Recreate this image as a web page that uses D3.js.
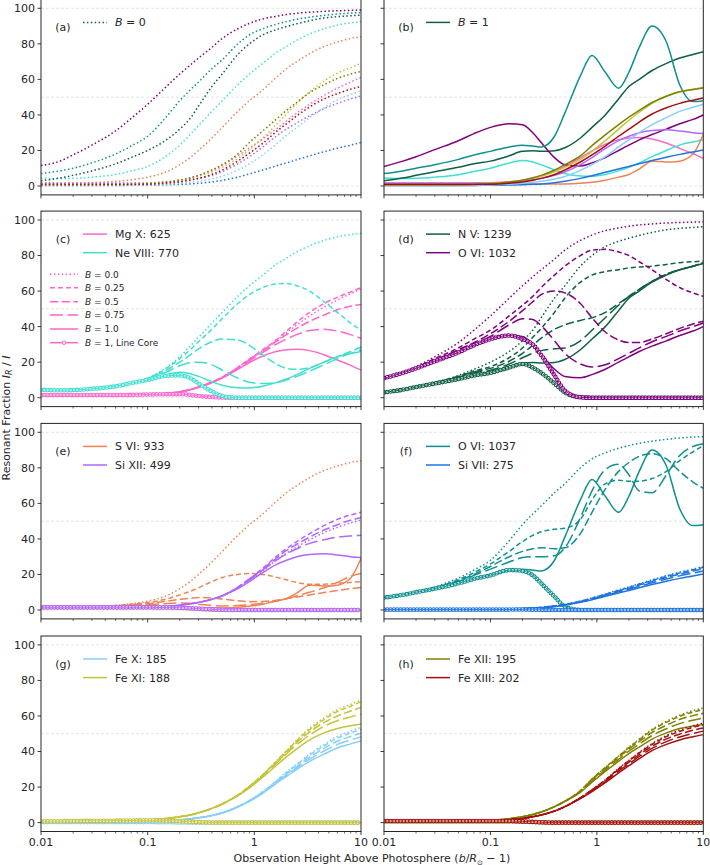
<!DOCTYPE html>
<html><head><meta charset="utf-8">
<script src="https://cdn.jsdelivr.net/npm/d3@7"></script>
<style>body{margin:0;background:#fff}svg{display:block}text{font-family:"DejaVu Sans",sans-serif;fill:#262626}</style>
</head><body><svg id="c" width="710" height="865"></svg>
<script>
// ---------------- data ----------------
const heights = [0.01,0.015,0.02,0.03,0.05,0.07,0.1,0.15,0.2,0.25,0.3,0.4,0.5,0.7,0.9,1.2,1.6,2,2.5,3.3,4.5,6,8,10];
const bLabels = ["0.0","0.25","0.5","0.75","1.0"];
const xTickVals = [0.01,0.1,1,10];
const xTickLabels = ["0.01","0.1","1","10"];
const yTickVals = [0,20,40,60,80,100];
const gridVals = [0,50,100];
// rows: B=0, 0.25, 0.5, 0.75, 1, line core
const MgX625 = [
 [1.5,1.5,1.5,1.5,1.5,1.6,1.8, 2.4,3.3,4.6,6,8.8,11.5, 17,21.5,26.5,32,36.5,41,46,51,55,58.5,61.2],
 [1.5,1.5,1.5,1.5,1.5,1.6,1.8, 2.4,3.3,4.6,6,8.8,11.5, 17,21.8,27,32.5,37.5,42.5,48,53,56.5,59.5,62],
 [1.5,1.5,1.5,1.5,1.5,1.6,1.8, 2.4,3.3,4.6,6,8.8,11.5, 17,21.5,26.5,31.5,35.5,39,43,46.5,49.5,51.5,52.5],
 [1.5,1.5,1.5,1.5,1.5,1.6,1.8, 2.4,3.3,4.5,5.9,8.6,11.3, 16.6,20.8,25.5,30,33,35.5,37.8,38.5,37.5,35.5,33.5],
 [1.5,1.5,1.5,1.5,1.5,1.6,1.8, 2.4,3.2,4.4,5.8,8.4,11, 16,19.8,23.5,26,27,27.3,26.5,24.2,21.2,18.2,15.5],
 [1.5,1.5,1.5,1.5,1.5,1.6,1.8, 2,2,1.6,1,0.4,0.1, 0,0,0,0,0,0,0,0,0,0,0]];
const NeVIII770 = [
 [4.5,4.2,4.3,5,6.5,8.5,11, 17,23,29,34,42,48, 57,63,69,75,78.5,82,85.5,88.5,90.5,91.8,92.5],
 [4.5,4.2,4.3,5,6.5,8.5,11, 16.5,22,27,31.5,38.5,44.5, 53,58,62,64,64.3,63,60,54,48,42,38],
 [4.5,4.2,4.3,5,6.5,8.4,10.8, 15.5,20,24,27.5,31.5,33, 32.5,29.5,24,19,16.5,16,17,20,23,26,28.5],
 [4.5,4.2,4.3,5,6.5,8.3,10.5, 14.5,18,19.7,20,18.5,15.5, 11,8.7,8,8.5,10,12,15,18.5,22,25,27],
 [4.5,4.2,4.3,5,6.4,8.2,10, 13,14.3,13.5,12,9,7, 5.6,5.5,6.5,8.5,10.5,13,16.5,20,23,24.8,26],
 [4.5,4.2,4.3,5,6.4,8.2,10, 12.3,12.6,11,8,3.5,1, 0,0,0,0,0,0,0,0,0,0,0]];
const NV1239 = [
 [3,4.5,6,8.5,12.5,16,20, 26,32,38,45,56,63, 74,80,85,88,89.7,91.3,93,94.5,95.3,95.8,96.2],
 [3,4.5,6,8.5,12,15,17.5, 22.5,28,34,39,48,56, 65,69,71,72,73,73.5,74,75,76,76.5,77],
 [3,4.5,6,8.5,12,14.5,16.5, 20.5,25,29.5,33.5,38.5,41, 43.5,45,48,53,57,61,65.5,69.5,72,74,76],
 [3,4.5,6,8.5,11.5,14,15.5, 19,22.5,25,26.5,27.5,28, 32,38,45,52,57,61,65.5,69.5,72,74,76],
 [3,4.5,6,8,10.5,12.5,14, 17,19.5,19.8,19.5,19.8,21.5, 27,33,40,49,56,60,65,69,72,74,75.5],
 [3,4.5,6,8,10.5,12.5,14, 17,19,17,14,8,3, 0.3,0,0,0,0,0,0,0,0,0,0]];
const OVI1032 = [
 [11.5,14,17.5,23,31,38,46, 56,63,68,72,78,83, 88.5,91.5,94,95.5,96.5,97.2,97.8,98.3,98.6,98.8,99],
 [11.5,14,17,22,28,33,38, 46,52,57,62,69,74, 80,83,83.5,82,80,76.5,72,66.5,62,59,57],
 [11.5,14,16.5,21,27,31,36, 43,49,54,58,60,59, 53,45,37,32.5,31,31,33,36,39,41.5,43],
 [11.5,14,16.5,20.5,26,30,34.5, 41,44.5,44,40.5,32,25, 19,17.3,18.5,22,25,28,31.5,34.5,37.5,40,42],
 [11,14,16.5,20.5,25.5,29.5,33, 35,34.5,30,24.5,16,12, 11.3,13,16,20,23,26,29,32,35,37.5,40],
 [11,14,16.5,20.5,25.5,29.5,33, 35,33,30,24,12.5,4, 0.2,0,0,0,0,0,0,0,0,0,0]];
const SVI933 = [
 [1.5,1.5,1.6,1.9,2.6,3.5,5, 8,12,16,20,27,33, 42,48,54,61,66,70,74.5,78.5,81,83,84],
 [1.5,1.5,1.6,1.9,2.5,3.2,4.2, 6.2,8.5,10.5,12.5,16,18.3, 20,20.5,20,18.5,17,15.5,14.5,14.5,15,15.5,16],
 [1.5,1.5,1.6,1.8,2.2,2.8,3.5, 5,6,6.6,7,6.8,6.2, 5.2,4.7,4.8,5.5,6.3,7.3,8.5,9.8,11,12,12.7],
 [1.5,1.5,1.6,1.7,2,2.4,3, 3.6,4,3.8,3.3,2.6,2.3, 2.5,3,3.8,5,6.3,8,10,12.5,15.5,19,20.5],
 [1.5,1.5,1.5,1.5,1.5,1.5,1.5, 1.5,1.3,1.2,1.2,1.2,1.2, 1.5,2.1,3.3,5,6.5,9.5,14,13.5,14,18,29],
 [1.5,1.5,1.5,1.5,1.5,1.5,1.6, 1.5,1.2,0.9,0.6,0.2,0, 0,0,0,0,0,0,0,0,0,0,0]];
const SiXII499 = [
 [1.5,1.5,1.5,1.5,1.5,1.5,1.6, 2,2.7,3.5,4.3,6,8, 12.5,16.5,22,28,32,35.5,39.5,43.5,46.5,49,50.6],
 [1.5,1.5,1.5,1.5,1.5,1.5,1.6, 2,2.7,3.5,4.3,6,8, 12.8,17.5,23.5,30,34.5,38.5,43,47.5,51,53.5,55],
 [1.5,1.5,1.5,1.5,1.5,1.5,1.6, 2,2.7,3.5,4.3,6,8, 12.8,17.5,23,29,33.5,37,41,45,48,50.5,52],
 [1.5,1.5,1.5,1.5,1.5,1.5,1.6, 2,2.7,3.5,4.3,6,8, 12.6,17,22.5,28,31.5,34.5,37.5,39.5,41,41.7,42],
 [1.5,1.5,1.5,1.5,1.5,1.5,1.6, 2,2.7,3.5,4.3,6,7.9, 12,16,21,25.5,28,30,31.3,31.6,31,30,29.5],
 [1.5,1.5,1.5,1.5,1.5,1.5,1.5, 1.4,1.3,1,0.8,0.4,0.15, 0,0,0,0,0,0,0,0,0,0,0]];
const OVI1037 = [
 [7,8.5,10,13,18,22.5,28, 39,48,54,58.5,66,71, 80,85,88.5,91,92.5,93.8,95,96,96.8,97.3,97.6],
 [7,8.5,10,12.5,17,21,26, 33,38.5,42,44,45.5,46, 51,62,71,73,72.5,72.5,74,78,84,89,92.5],
 [7,8.5,10,12.5,16.5,20,24.5, 30,33,34.5,35,34.5,35, 43,55,68,78,83,86.5,88,85,78,72,68.5],
 [7,8.5,10,12.5,16,19.5,23, 27,29.5,30,30,30.5,35, 52,67,79,82,76,67,66,76,87,92,93.5],
 [7,8.5,10,12,15,17.5,19.5, 22,23,22.5,22,28,41, 62,73.5,64,55,64,78,90,81,57,47.5,48],
 [7,8.5,10,12,15,17.5,19.5, 22.5,22,19.5,15,7.5,2, 0,0,0,0,0,0,0,0,0,0,0]];
const SiVII275 = [
 [0.3,0.3,0.3,0.3,0.3,0.4,0.5, 0.7,0.9,1.2,1.5,2.3,3.2, 5,6.8,9,11.3,13,14.8,17,19.3,21.3,23,24.5],
 [0.3,0.3,0.3,0.3,0.3,0.4,0.5, 0.7,0.9,1.2,1.5,2.3,3.1, 4.9,6.6,8.8,11,12.7,14.5,16.6,18.9,20.9,22.6,24],
 [0.3,0.3,0.3,0.3,0.3,0.4,0.5, 0.7,0.85,1.15,1.4,2.2,3, 4.8,6.4,8.5,10.7,12.3,14,16.1,18.3,20.2,21.9,23.3],
 [0.3,0.3,0.3,0.3,0.3,0.4,0.45, 0.65,0.8,1.1,1.3,2.1,2.9, 4.6,6.1,8.1,10.2,11.7,13.3,15.3,17.4,19.2,20.8,22],
 [0.3,0.3,0.3,0.3,0.3,0.35,0.4, 0.55,0.7,0.95,1.2,1.9,2.7, 4.3,5.8,7.7,9.6,11,12.5,14.3,16.2,17.8,19.2,20.3],
 [0.3,0.3,0.3,0.3,0.3,0.3,0.3, 0.3,0.25,0.15,0.1,0,0, 0,0,0,0,0,0,0,0,0,0,0]];
const FeX185 = [
 [0.2,0.2,0.2,0.2,0.3,0.4,0.6, 1,1.5,2.1,2.7,4,5.5, 9,12.5,17.5,23.5,28.5,33,38.5,44,48.5,51.5,53.7],
 [0.2,0.2,0.2,0.2,0.3,0.4,0.6, 1,1.5,2.1,2.7,4,5.5, 9,12.4,17.3,23.2,28,32.5,38,43.2,47.5,50.5,52.5],
 [0.2,0.2,0.2,0.2,0.3,0.4,0.6, 1,1.5,2.1,2.7,4,5.5, 8.9,12.3,17,22.8,27.3,31.5,36.8,41.8,45.8,48.5,50.3],
 [0.2,0.2,0.2,0.2,0.3,0.4,0.6, 1,1.5,2.1,2.7,4,5.5, 8.9,12.2,16.8,22.4,26.7,30.8,35.7,40.3,44,46.5,48.2],
 [0.2,0.2,0.2,0.2,0.3,0.4,0.6, 1,1.5,2.1,2.7,4,5.4, 8.8,12,16.5,22,26,30,34.5,38.5,42,44.3,46],
 [0.3,0.3,0.3,0.3,0.3,0.3,0.3, 0.2,0.1,0,0,0,0, 0,0,0,0,0,0,0,0,0,0,0]];
const FeXI188 = [
 [0.6,0.6,0.6,0.6,0.7,0.9,1.5, 2.3,3.3,4.3,5.5,8,10.5, 15.5,20.5,27,34.5,40.5,46.5,53,59,63.5,66.5,69],
 [0.6,0.6,0.6,0.6,0.7,0.9,1.5, 2.3,3.3,4.3,5.5,8,10.5, 15.5,20.5,27,34.3,40.2,46,52.3,58,62.5,65.5,68],
 [0.6,0.6,0.6,0.6,0.7,0.9,1.5, 2.3,3.3,4.3,5.5,8,10.5, 15.4,20.3,26.7,33.8,39.5,45,51,56.3,60,62.8,64.8],
 [0.6,0.6,0.6,0.6,0.7,0.9,1.5, 2.3,3.3,4.3,5.5,8,10.5, 15.3,20,26.3,33.2,38.7,43.8,49.3,54.2,57.3,59.5,61],
 [0.6,0.6,0.6,0.6,0.7,0.9,1.5, 2.3,3.3,4.3,5.5,8,10.5, 15,19.5,25.5,32,37,41.5,46.5,50.5,53,54.5,55.5],
 [0.8,0.8,0.9,1,1.1,1.2,1.3, 1.2,0.8,0.5,0.3,0.05,0, 0,0,0,0,0,0,0,0,0,0,0]];
const FeXII195 = [
 [0.8,0.8,0.8,0.8,0.9,1,1.3, 2.2,3.3,4.6,6,9,12, 18,24.5,31,37.5,42.5,47,52.5,57,60.5,63,64.5],
 [0.8,0.8,0.8,0.8,0.9,1,1.3, 2.2,3.3,4.6,6,9,12, 18,24.5,31,37.3,42.2,46.6,52,56.4,59.8,62.2,63.7],
 [0.8,0.8,0.8,0.8,0.9,1,1.3, 2.2,3.3,4.6,6,9,12, 17.8,24.2,30.5,36.7,41.4,45.6,50.7,54.8,58,60.2,61.5],
 [0.8,0.8,0.8,0.8,0.9,1,1.3, 2.2,3.3,4.6,6,9,12, 17.5,23.5,29.7,35.6,40.2,44.2,49,52.8,55.7,57.6,58.8],
 [0.8,0.8,0.8,0.8,0.9,1,1.3, 2.2,3.3,4.6,6,9,12, 17,22.7,28.8,34.5,38.8,42.5,47,50.5,53,54.3,55.2],
 [0.8,0.8,0.8,0.8,0.8,0.8,0.8, 0.7,0.5,0.3,0.15,0,0, 0,0,0,0,0,0,0,0,0,0,0]];
const FeXIII202 = [
 [0.8,0.8,0.8,0.8,0.8,0.9,1, 1.6,2.3,3.3,4.3,6.5,9, 14,18.5,24,30.5,35,39.5,44.5,49,52,54.5,56],
 [0.8,0.8,0.8,0.8,0.8,0.9,1, 1.6,2.3,3.3,4.3,6.5,9, 14,18.5,24,30.3,34.8,39.2,44,48.4,51.3,53.6,55],
 [0.8,0.8,0.8,0.8,0.8,0.9,1, 1.6,2.3,3.3,4.3,6.5,9, 13.9,18.3,23.6,29.8,34,38.3,43,47.1,49.8,52,53.3],
 [0.8,0.8,0.8,0.8,0.8,0.9,1, 1.6,2.3,3.3,4.3,6.5,9, 13.7,18,23.1,29,33,37.2,41.8,45.6,48.2,50.2,51.5],
 [0.8,0.8,0.8,0.8,0.8,0.9,1, 1.6,2.3,3.3,4.3,6.5,9, 13.5,17.5,22.5,28,32,36,40.5,44,46.5,48.3,49.5],
 [0.9,0.9,0.9,0.9,0.9,0.9,0.9, 0.9,0.7,0.4,0.2,0,0, 0,0,0,0,0,0,0,0,0,0,0]];

const ionNames = ["Mg X: 625","Ne VIII: 770","N V: 1239","O VI: 1032","S VI: 933","Si XII: 499",
                  "O VI: 1037","Si VII: 275","Fe X: 185","Fe XI: 188","Fe XII: 195","Fe XIII: 202"];
const ionData = [MgX625,NeVIII770,NV1239,OVI1032,SVI933,SiXII499,OVI1037,SiVII275,FeX185,FeXI188,FeXII195,FeXIII202];

// ---------------- styles / layout ----------------
const ionColors = ["#ff66cc","#40e0d0","#0f5f45","#800080","#ef8354","#b266ff",
                   "#0e9090","#1e74e0","#87cefa","#c4c43a","#808000","#a50f0f"];
const dashes = ["1.5,2.4","5,3","8.3,3.3","13,4.5",null];
const colX = [[41,361],[384,703.3]];
const rowTop = [-0.6,211.1,423.4,636];
const panelH = 195.5;
const svg = d3.select("#c");
const fs = 11;

const panels = [
 {lab:"(a)",col:0,row:0,ions:d3.range(12),mode:"b0"},
 {lab:"(b)",col:1,row:0,ions:d3.range(12),mode:"b1"},
 {lab:"(c)",col:0,row:1,ions:[0,1],mode:"all"},
 {lab:"(d)",col:1,row:1,ions:[2,3],mode:"all"},
 {lab:"(e)",col:0,row:2,ions:[4,5],mode:"all"},
 {lab:"(f)",col:1,row:2,ions:[6,7],mode:"all"},
 {lab:"(g)",col:0,row:3,ions:[8,9],mode:"all"},
 {lab:"(h)",col:1,row:3,ions:[10,11],mode:"all"}];

function drawLine(g,line,arr,color,k){
  const p=g.append("path").attr("d",line(arr)).attr("fill","none").attr("stroke",color)
    .attr("stroke-width",1.5);
  if(dashes[k]) p.attr("stroke-dasharray",dashes[k]);
}
function drawCore(g,line,arr,color){
  const d=line(arr);
  g.append("path").attr("d",d).attr("fill","none").attr("stroke",color).attr("stroke-width",4.6)
    .attr("stroke-linecap","round").attr("stroke-dasharray","0 3.3");
  g.append("path").attr("d",d).attr("fill","none").attr("stroke","#fff").attr("stroke-width",2.4)
    .attr("stroke-linecap","round").attr("stroke-dasharray","0 3.3");
  g.append("path").attr("d",d).attr("fill","none").attr("stroke",color).attr("stroke-width",0.9);
}

panels.forEach((P,pi)=>{
  const x0=colX[P.col][0], x1=colX[P.col][1];
  const top=rowTop[P.row], bot=top+panelH;
  const x=d3.scaleLog().domain([0.01,10]).range([x0,x1]);
  const y=d3.scaleLinear().domain([-5,105]).range([bot,top]);
  const g=svg.append("g");
  const cid="clip"+pi;
  g.append("clipPath").attr("id",cid).append("rect").attr("x",x0).attr("y",top).attr("width",x1-x0).attr("height",panelH);
  g.selectAll(".gr").data(gridVals).enter().append("line")
    .attr("x1",x0).attr("x2",x1).attr("y1",d=>y(d)).attr("y2",d=>y(d))
    .attr("stroke","#dcdcdc").attr("stroke-width",0.8).attr("stroke-dasharray","3,2");
  const line=d3.line().x((d,i)=>x(heights[i])).y(d=>y(d)).curve(d3.curveMonotoneX);
  const lg=g.append("g").attr("clip-path",`url(#${cid})`);
  P.ions.forEach(ii=>{
    const D=ionData[ii], c=ionColors[ii];
    if(P.mode==="b0") drawLine(lg,line,D[0],c,0);
    else if(P.mode==="b1") drawLine(lg,line,D[4],c,4);
    else { for(let k=0;k<5;k++) drawLine(lg,line,D[k],c,k); drawCore(lg,line,D[5],c); }
  });
  g.append("rect").attr("x",x0).attr("y",top).attr("width",x1-x0).attr("height",panelH)
    .attr("fill","none").attr("stroke","#262626").attr("stroke-width",1);
  const isMajor=d=>xTickVals.some(v=>Math.abs(v-d)/v<1e-6);
  g.selectAll(".xt").data(x.ticks()).enter().append("line")
    .attr("x1",d=>x(d)).attr("x2",d=>x(d)).attr("y1",bot)
    .attr("y2",d=>bot+(isMajor(d)?3.5:2))
    .attr("stroke","#262626").attr("stroke-width",d=>isMajor(d)?0.9:0.7);
  if(P.row===3){
    g.selectAll(".xl").data(xTickVals).enter().append("text")
      .attr("x",d=>x(d)).attr("y",bot+14).attr("text-anchor","middle").attr("font-size",fs)
      .text((d,i)=>xTickLabels[i]);
  }
  g.selectAll(".yt").data(yTickVals).enter().append("line")
    .attr("x1",x0-3.5).attr("x2",x0).attr("y1",d=>y(d)).attr("y2",d=>y(d))
    .attr("stroke","#262626").attr("stroke-width",0.9);
  if(P.col===0){
    g.selectAll(".yl").data(yTickVals).enter().append("text")
      .attr("x",x0-6).attr("y",d=>y(d)).attr("dy","0.36em").attr("text-anchor","end")
      .attr("font-size",fs).text(d=>d);
  }
  g.append("text").attr("x",x0+22).attr("y",top+32).attr("text-anchor","middle")
    .attr("font-size",fs).text(P.lab);
  const lx0=x0+42, lx1=x0+66, tx=x0+74;
  if(P.mode==="b0"||P.mode==="b1"){
    const ly=top+23;
    const ln=g.append("line").attr("x1",lx0).attr("x2",lx1).attr("y1",ly).attr("y2",ly)
      .attr("stroke",ionColors[2]).attr("stroke-width",1.5);
    if(P.mode==="b0") ln.attr("stroke-dasharray",dashes[0]);
    const t=g.append("text").attr("x",tx).attr("y",ly+4).attr("font-size",fs);
    t.append("tspan").attr("font-style","italic").text("B");
    t.append("tspan").text(P.mode==="b0"?" = 0":" = 1");
  } else {
    P.ions.forEach((ii,j)=>{
      const ly=top+23+j*18.6;
      g.append("line").attr("x1",lx0).attr("x2",lx1).attr("y1",ly).attr("y2",ly)
        .attr("stroke",ionColors[ii]).attr("stroke-width",1.5);
      g.append("text").attr("x",tx).attr("y",ly+4).attr("font-size",fs).text(ionNames[ii]);
    });
  }
  if(P.lab==="(c)"){
    const c=ionColors[0];
    const rows=[63.2,76.6,90.6,103.9,117.9,131.6];
    rows.forEach((r,k)=>{
      const ly=top+r;
      const ln=g.append("line").attr("x1",50).attr("x2",78).attr("y1",ly).attr("y2",ly)
        .attr("stroke",c).attr("stroke-width",1.5);
      if(k<5&&dashes[k]) ln.attr("stroke-dasharray",dashes[k]);
      if(k===5){ g.append("circle").attr("cx",64).attr("cy",ly).attr("r",1.8).attr("fill","#fff")
        .attr("stroke",c).attr("stroke-width",1); }
      const t=g.append("text").attr("x",85).attr("y",ly+3.3).attr("font-size",9);
      t.append("tspan").attr("font-style","italic").text("B");
      t.append("tspan").text(k<5?" = "+bLabels[k]:" = 1, Line Core");
    });
  }
});

const yl=svg.append("text").attr("transform","translate(9.5,418) rotate(-90)")
  .attr("text-anchor","middle").attr("font-size",fs);
yl.append("tspan").text("Resonant Fraction  ");
yl.append("tspan").attr("font-style","italic").text("I");
yl.append("tspan").attr("font-style","italic").attr("font-size",8).attr("dy",2.5).text("R");
yl.append("tspan").attr("dy",-2.5).text(" / ");
yl.append("tspan").attr("font-style","italic").text("I");

const xl=svg.append("text").attr("x",372).attr("y",862).attr("text-anchor","middle").attr("font-size",fs);
xl.append("tspan").text("Observation Height Above Photosphere (");
xl.append("tspan").attr("font-style","italic").text("b");
xl.append("tspan").text("/");
xl.append("tspan").attr("font-style","italic").text("R");
xl.append("tspan").attr("font-size",7).attr("dy",2.5).text("⊙");
xl.append("tspan").attr("dy",-2.5).text(" − 1)");
</script></body></html>
